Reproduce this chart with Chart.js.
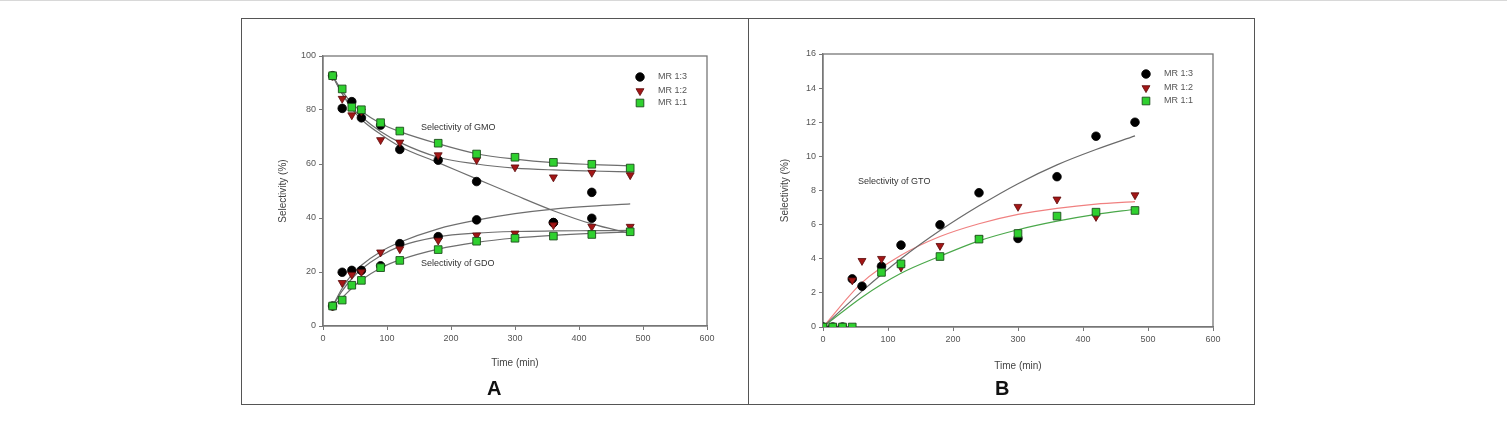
<!DOCTYPE html>
<html><head><meta charset="utf-8">
<script src="https://cdn.jsdelivr.net/npm/chart.js@4.4.0/dist/chart.umd.min.js"></script>
<style>
html,body{margin:0;padding:0;background:#fff;width:1507px;height:423px;overflow:hidden;font-family:"Liberation Sans",Arial,sans-serif;}
.box{position:absolute;}
.lbl{position:absolute;font:bold 20px "Liberation Sans",Arial,sans-serif;color:#111;}
</style></head><body>
<div style="position:absolute;left:0;top:0;width:1507px;height:1px;background:#d8d8d8"></div>
<div style="position:absolute;left:241px;top:18px;width:1012px;height:385px;border:1px solid #555"></div>
<div style="position:absolute;left:748px;top:18px;width:1px;height:386px;background:#555"></div>
<div class="box" style="left:243px;top:19px;width:505px;height:385px"><canvas id="cA"></canvas></div>
<div class="box" style="left:749px;top:19px;width:505px;height:385px"><canvas id="cB"></canvas></div>
<div class="lbl" style="left:487px;top:377px;">A</div>
<div class="lbl" style="left:995px;top:377px;">B</div>
<script>
// ---------- Panel A data ----------
const timeA = [15, 30, 45, 60, 90, 120, 180, 240, 300, 360, 420, 480];
const gmo13 = [92.7, 80.6, 83.1, 77.1, 74.4, 65.4, 61.4, 53.5, null, 38.3, 49.5, null];
const gmo12 = [92.7, 84.2, 78.1, 79.5, 68.9, 68.0, 63.3, 61.5, 58.8, 55.1, 56.8, 55.9];
const gmo11 = [92.7, 87.8, 81.0, 80.1, 75.3, 72.2, 67.7, 63.7, 62.5, 60.6, 59.9, 58.5];
const gdo13 = [7.4, 19.9, 20.6, 20.6, 22.3, 30.5, 33.1, 39.3, null, 38.3, 39.9, null];
const gdo12 = [7.4, 16.0, 19.0, 20.0, 27.3, 28.5, 31.7, 33.6, 34.3, 37.4, 36.8, 36.8];
const gdo11 = [7.4, 9.6, 15.1, 16.9, 21.6, 24.3, 28.3, 31.4, 32.5, 33.3, 33.9, 34.9];
// fitted curves
const fitGmo13 = [92.7, 86.0, 80.5, 76.5, 71.0, 66.5, 60.5, 54.5, 48.5, 42.7, 37.8, 34.3];
const fitGmo12 = [92.7, 86.0, 81.0, 77.5, 72.0, 68.0, 62.5, 60.0, 58.5, 57.8, 57.4, 57.1];
const fitGmo11 = [92.7, 87.0, 82.5, 79.5, 75.0, 72.0, 67.5, 63.8, 61.8, 60.5, 59.8, 59.3];
const fitGdo13 = [7.4, 14.0, 19.0, 22.5, 27.5, 31.0, 36.0, 39.2, 41.6, 43.3, 44.4, 45.2];
const fitGdo12 = [7.4, 13.0, 17.5, 21.0, 26.0, 29.5, 33.0, 34.4, 35.0, 35.2, 35.3, 35.4];
const fitGdo11 = [7.4, 10.5, 14.0, 17.0, 21.5, 24.5, 28.5, 31.0, 32.6, 33.6, 34.3, 34.8];

// ---------- Panel B data ----------
const timeB = [0, 15, 30, 45, 60, 90, 120, 180, 240, 300, 360, 420, 480];
const gto13 = [0, 0, 0, 2.82, 2.39, 3.56, 4.80, 5.99, 7.87, 5.19, 8.81, 11.18, 12.00];
const gto12 = [0, 0, 0, 2.74, 3.88, 4.00, 3.50, 4.76, 5.20, 7.05, 7.48, 6.46, 7.73];
const gto11 = [0, 0, 0, 0, null, 3.20, 3.70, 4.13, 5.15, 5.48, 6.50, 6.73, 6.83];
const fitTimeB = [0, 60, 120, 180, 240, 300, 360, 420, 480];
const fitGto13 = [0, 2.1, 4.0, 5.65, 7.1, 8.4, 9.5, 10.4, 11.2];
const fitGto12 = [0, 2.6, 4.2, 5.3, 6.05, 6.6, 6.95, 7.2, 7.35];
const fitGto11 = [0, 1.75, 3.15, 4.15, 5.05, 5.7, 6.2, 6.6, 6.9];

const xTicks = [0, 100, 200, 300, 400, 500, 600];
const legendLabels = ['MR 1:3', 'MR 1:2', 'MR 1:1'];

const FONT = '"Liberation Sans", Arial, sans-serif';
const toXY = (xs, ys) => xs.map((x, i) => ({x: x, y: ys[i]})).filter(p => p.y !== null);

const S13 = {pointStyle: 'circle', pointRadius: 4.3, pointBackgroundColor: '#000', pointBorderColor: '#000', pointBorderWidth: 0.8, rotation: 0};
const S12 = {pointStyle: 'triangle', pointRadius: 4.6, pointBackgroundColor: '#a31616', pointBorderColor: '#5a0a0a', pointBorderWidth: 0.8, rotation: 180};
const S11 = {pointStyle: 'rect', pointRadius: 5.4, pointBackgroundColor: '#2fd02f', pointBorderColor: '#1c4d1c', pointBorderWidth: 0.9, rotation: 0};

function marks(data, st) {
  return Object.assign({data: data, showLine: false, pointHoverRadius: st.pointRadius, pointRotation: st.rotation}, st);
}
function curve(data, color, w) {
  return {data: data, showLine: true, borderColor: color, borderWidth: w || 1.2, pointRadius: 0, pointHoverRadius: 0, cubicInterpolationMode: 'monotone', fill: false};
}

function drawMarker(ctx, st, x, y) {
  ctx.save();
  ctx.fillStyle = st.pointBackgroundColor; ctx.strokeStyle = st.pointBorderColor; ctx.lineWidth = st.pointBorderWidth;
  const r = st.pointRadius;
  ctx.beginPath();
  if (st.pointStyle === 'circle') ctx.arc(x, y, r, 0, Math.PI * 2);
  else if (st.pointStyle === 'rect') { const s = r * Math.SQRT1_2; ctx.rect(x - s, y - s, 2 * s, 2 * s); }
  else { ctx.moveTo(x - r * 0.866, y - r * 0.5); ctx.lineTo(x + r * 0.866, y - r * 0.5); ctx.lineTo(x, y + r); ctx.closePath(); }
  ctx.fill(); ctx.stroke();
  ctx.restore();
}

function makePlugin(cfg) {
  return {
    id: 'decor' + cfg.id,
    beforeDatasetsDraw(chart) {
      const a = chart.chartArea, ctx = chart.ctx;
      ctx.save(); ctx.strokeStyle = '#777'; ctx.lineWidth = 1.3;
      ctx.strokeRect(a.left, a.top, a.right - a.left, a.bottom - a.top);
      ctx.restore();
    },
    afterDraw(chart) {
      const ctx = chart.ctx;
      const sx = chart.scales.x, sy = chart.scales.y;
      const styles = [S13, S12, S11];
      ctx.save();
      ctx.font = '9px ' + FONT; ctx.fillStyle = '#555'; ctx.textBaseline = 'middle'; ctx.textAlign = 'left';
      cfg.legendY.forEach((ly, i) => {
        drawMarker(ctx, styles[i], cfg.legendX, ly);
        ctx.fillText(legendLabels[i], cfg.legendX + 18, ly);
      });
      ctx.fillStyle = '#333'; ctx.font = '9px ' + FONT; ctx.textBaseline = 'middle';
      cfg.notes.forEach(n => ctx.fillText(n.text, sx.getPixelForValue(n.x), sy.getPixelForValue(n.y)));
      ctx.restore();
    }
  };
}

function axes(ymax, ystep, yW, xH, yPad, xPad) {
  const tickFont = {family: FONT, size: 9};
  const titleFont = {family: FONT, size: 10};
  return {
    x: {type: 'linear', min: 0, max: 600,
        afterBuildTicks: s => { s.ticks = xTicks.map(v => ({value: v})); },
        afterFit: s => { s.height = xH; },
        ticks: {font: tickFont, color: '#555', padding: 3, maxRotation: 0},
        grid: {drawOnChartArea: false, drawTicks: true, tickLength: 4, color: '#777', lineWidth: 1},
        border: {display: true, color: '#777', width: 1.3},
        title: {display: true, text: 'Time (min)', font: titleFont, color: '#444', padding: {top: 0, bottom: xPad}}},
    y: {type: 'linear', min: 0, max: ymax,
        ticks: {stepSize: ystep, font: tickFont, color: '#555', padding: 3},
        afterFit: s => { s.width = yW; },
        grid: {drawOnChartArea: false, drawTicks: true, tickLength: 4, color: '#777', lineWidth: 1},
        border: {display: true, color: '#777', width: 1.3},
        title: {display: true, text: 'Selectivity (%)', font: titleFont, color: '#444', padding: {top: yPad, bottom: 0}}}
  };
}

const common = {responsive: false, animation: false, maintainAspectRatio: false,
  plugins: {legend: {display: false}, tooltip: {enabled: false}}, events: []};

function setup(id, w, h) {
  const c = document.getElementById(id); c.width = w; c.height = h; c.style.width = w + 'px'; c.style.height = h + 'px'; return c;
}

// Panel A
new Chart(setup('cA', 505, 385), {
  type: 'scatter',
  data: {datasets: [
    marks(toXY(timeA, gmo11), S11), marks(toXY(timeA, gdo11), S11),
    marks(toXY(timeA, gmo12), S12), marks(toXY(timeA, gdo12), S12),
    marks(toXY(timeA, gmo13), S13), marks(toXY(timeA, gdo13), S13),
    curve(toXY(timeA, fitGmo13), '#6e6e6e'), curve(toXY(timeA, fitGmo12), '#6e6e6e'), curve(toXY(timeA, fitGmo11), '#6e6e6e'),
    curve(toXY(timeA, fitGdo13), '#6e6e6e'), curve(toXY(timeA, fitGdo12), '#6e6e6e'), curve(toXY(timeA, fitGdo11), '#6e6e6e')
  ]},
  options: Object.assign({}, common, {
    layout: {padding: {left: 0, top: 37, right: 41, bottom: 0}},
    scales: axes(100, 20, 80, 78, 34, 35)
  }),
  plugins: [makePlugin({id: 'A', legendX: 397, legendY: [58, 72, 84],
    notes: [{text: 'Selectivity of GMO', x: 153, y: 73.5}, {text: 'Selectivity of GDO', x: 153, y: 23.2}]})]
});

// Panel B
new Chart(setup('cB', 505, 385), {
  type: 'scatter',
  data: {datasets: [
    marks(toXY(timeB, gto11), S11), marks(toXY(timeB, gto12), S12), marks(toXY(timeB, gto13), S13),
    curve(toXY(fitTimeB, fitGto13), '#6a6a6a'), curve(toXY(fitTimeB, fitGto12), '#f08080'), curve(toXY(fitTimeB, fitGto11), '#4aa84a')
  ]},
  options: Object.assign({}, common, {
    layout: {padding: {left: 0, top: 35, right: 41, bottom: 0}},
    scales: axes(16, 2, 74, 77, 30, 32)
  }),
  plugins: [makePlugin({id: 'B', legendX: 397, legendY: [55, 69, 82],
    notes: [{text: 'Selectivity of GTO', x: 54, y: 8.5}]})]
});
</script>
</body></html>
